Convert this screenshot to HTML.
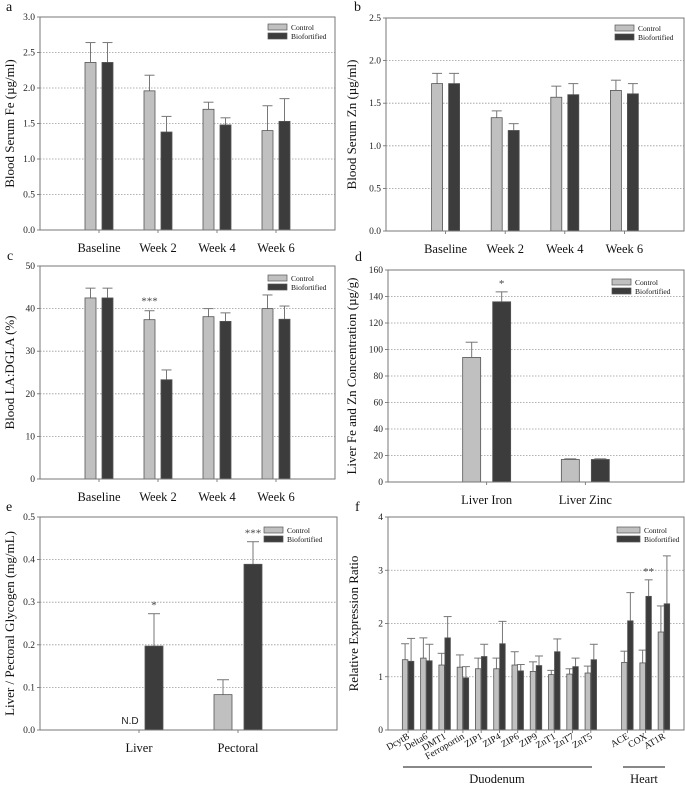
<!DOCTYPE html>
<html><head><meta charset="utf-8"><style>
html,body{margin:0;padding:0;background:#fff;}
svg{display:block;font-family:"Liberation Serif",serif;}
</style></head><body>
<svg id="fig" width="685" height="785" viewBox="0 0 685 785" xmlns="http://www.w3.org/2000/svg"></svg>
<script>
const NS="http://www.w3.org/2000/svg";
const svg=document.getElementById('fig');
// Panel a
const aCats=["Baseline","Week 2","Week 4","Week 6"];
const aControl=[2.36,1.96,1.70,1.40];
const aControlErr=[2.64,2.18,1.80,1.75];
const aBio=[2.36,1.38,1.48,1.53];
const aBioErr=[2.64,1.60,1.58,1.85];
const aTicks=["0.0","0.5","1.0","1.5","2.0","2.5","3.0"];
// Panel b
const bCats=["Baseline","Week 2","Week 4","Week 6"];
const bControl=[1.73,1.33,1.57,1.65];
const bControlErr=[1.85,1.41,1.70,1.77];
const bBio=[1.73,1.18,1.60,1.61];
const bBioErr=[1.85,1.26,1.73,1.73];
const bTicks=["0.0","0.5","1.0","1.5","2.0","2.5"];
// Panel c
const cCats=["Baseline","Week 2","Week 4","Week 6"];
const cControl=[42.5,37.4,38.1,40.0];
const cControlErr=[44.8,39.5,40.0,43.2];
const cBio=[42.5,23.3,37.0,37.5];
const cBioErr=[44.8,25.6,39.0,40.6];
const cTicks=["0","10","20","30","40","50"];
// Panel d
const dCats=["Liver Iron","Liver Zinc"];
const dControl=[94,17];
const dControlErr=[105.5,17.5];
const dBio=[136,17];
const dBioErr=[143.5,17.5];
const dTicks=["0","20","40","60","80","100","120","140","160"];
// Panel e
const eCats=["Liver","Pectoral"];
const eControl=[null,0.083];
const eControlErr=[null,0.118];
const eBio=[0.197,0.389];
const eBioErr=[0.273,0.442];
const eTicks=["0.0","0.1","0.2","0.3","0.4","0.5"];
// Panel f
const fCats=["DcytB","Delta6","DMT1","Ferroportin","ZIP1","ZIP4","ZIP6","ZIP9","ZnT1","ZnT7","ZnT5","","ACE","COX","AT1R"];
const fControl=[1.32,1.35,1.22,1.18,1.15,1.15,1.22,1.10,1.04,1.05,1.07,null,1.27,1.26,1.84];
const fControlErr=[1.62,1.73,1.44,1.41,1.35,1.35,1.47,1.28,1.12,1.15,1.20,null,1.48,1.50,2.33];
const fBio=[1.29,1.30,1.73,0.98,1.38,1.62,1.11,1.21,1.47,1.19,1.32,null,2.05,2.51,2.37];
const fBioErr=[1.72,1.61,2.13,1.19,1.61,2.04,1.23,1.39,1.71,1.35,1.61,null,2.58,2.82,3.27];
const fTicks=["0","1","2","3","4"];

function el(tag,attrs,parent){const e=document.createElementNS(NS,tag);for(const k in attrs)e.setAttribute(k,attrs[k]);(parent||svg).appendChild(e);return e;}
function txt(s,attrs,parent){const e=el('text',attrs,parent);e.textContent=s;return e;}

function panel(p){
  const g=el('g',{});
  
  
  const {L,R,T,B}=p;const ticks=p.ticks;
  const ymax=parseFloat(ticks[ticks.length-1]);
  const y=v=>B-(v/ymax)*(B-T);
  const n=p.cats.length;
  const x=i=>L+(i+p.off)*(R-L)/p.div;
  // grid
  ticks.forEach((t,i)=>{
    const v=parseFloat(t);const yy=y(v);
    if(i>0&&i<ticks.length-1){const gl=el('line',{x1:L,x2:R,y1:yy,y2:yy,stroke:'#999','stroke-width':0.8,'stroke-dasharray':'1.5,1.5'},g);
      }
    const tl=txt(t,{x:L-5,y:yy+3,'font-size':9.5,'text-anchor':'end',fill:'#222'},g);
    
    el('line',{x1:L-3,x2:L,y1:yy,y2:yy,stroke:'#666','stroke-width':0.8},g);
  });
  // bars
  const drawBar=(vals,errs,i,cx,fill,nm)=>{
    if(vals[i]==null)return;
    const yv=y(vals[i]);const w=p.bw;
    const ey=y(errs[i]);
    const eb=el('line',{x1:cx,x2:cx,y1:yv,y2:ey,stroke:'#777','stroke-width':1},g);
    
    el('line',{x1:cx-p.cap,x2:cx+p.cap,y1:ey,y2:ey,stroke:'#777','stroke-width':1},g);
    const r=el('rect',{x:cx-w/2,y:yv,width:w,height:B-yv,fill:fill,stroke:'#555','stroke-width':0.8},g);
    
  };
  for(let i=0;i<n;i++){
    if(p.cats[i]==="")continue;
    const cx=x(i);
    drawBar(p.ctrl,p.ctrlErr,i,cx-p.sep,'#c0c0c0','bar-control');
    drawBar(p.bio,p.bioErr,i,cx+p.sep,'#3c3c3c','bar-biofortified');
    el('line',{x1:cx,x2:cx,y1:B,y2:B+3,stroke:'#666','stroke-width':0.8},g);
    if(p.rot){
      const lb=txt(p.cats[i],{x:cx+2,y:B+8,'font-size':9.5,'text-anchor':'end',transform:`rotate(-30 ${cx+2} ${B+8})`,fill:'#111'},g);
      
    } else {
      const lb=txt(p.cats[i],{x:cx,y:B+22,'font-size':12.5,'text-anchor':'middle',fill:'#111'},g);
      
    }
  }
  // frame
  const fr=el('rect',{x:L,y:T,width:R-L,height:B-T,fill:'none',stroke:'#777','stroke-width':1},g);
  
  // y title
  const yt=txt(p.ytitle,{x:0,y:0,'font-size':p.ytsize||13,'text-anchor':'middle',transform:`translate(${p.ytx} ${(T+B)/2}) rotate(-90)`,fill:'#111'},g);
  
  // legend
  const lg=el('g',{},g);
  
  [['Control','#c0c0c0'],['Biofortified','#3c3c3c']].forEach((d,k)=>{
    const yy=p.legY+k*9;
    el('rect',{x:p.legX,y:yy,width:p.legW,height:6,fill:d[1],stroke:'#555','stroke-width':0.7},lg);
    const lt=txt(d[0],{x:p.legX+p.legW+4,y:yy+6,'font-size':7.5,fill:'#111'},lg);
    
  });
  // panel letter
  const pl=txt(p.letter,{x:p.lx,y:p.ly,'font-size':14,fill:'#111'},g);
  
  return {x,y,g};
}

const pa=panel({name:'panel-a',L:40,R:335,T:17,B:230,cats:aCats,ctrl:aControl,ctrlErr:aControlErr,bio:aBio,bioErr:aBioErr,ticks:aTicks,off:1,div:5,bw:11,sep:8.5,cap:5,ytitle:'Blood Serum Fe (\u00b5g/ml)',ytx:14,legX:268,legY:24,legW:19,letter:'a',lx:6,ly:11});
const pb=panel({name:'panel-b',L:386,R:684,T:18,B:231,cats:bCats,ctrl:bControl,ctrlErr:bControlErr,bio:bBio,bioErr:bBioErr,ticks:bTicks,off:1,div:5,bw:11,sep:8.5,cap:5,ytitle:'Blood Serum Zn (\u00b5g/ml)',ytx:356,legX:615,legY:25,legW:19,letter:'b',lx:354,ly:11});
const pc=panel({name:'panel-c',L:40,R:335,T:266,B:479,cats:cCats,ctrl:cControl,ctrlErr:cControlErr,bio:cBio,bioErr:cBioErr,ticks:cTicks,off:1,div:5,bw:11,sep:8.5,cap:5,ytitle:'Blood LA:DGLA (%)',ytx:14,legX:268,legY:275,legW:19,letter:'c',lx:7,ly:260});
const pd=panel({name:'panel-d',L:388,R:684,T:270,B:482,cats:dCats,ctrl:dControl,ctrlErr:dControlErr,bio:dBio,bioErr:dBioErr,ticks:dTicks,off:1,div:3,bw:18,sep:15,cap:6,ytitle:'Liver Fe and Zn Concentration (\u00b5g/g)',ytx:356,legX:612,legY:279,legW:19,letter:'d',lx:355,ly:261});
const pe=panel({name:'panel-e',L:40,R:337,T:517,B:730,cats:eCats,ctrl:eControl,ctrlErr:eControlErr,bio:eBio,bioErr:eBioErr,ticks:eTicks,off:1,div:3,bw:18,sep:15,cap:6,ytitle:'Liver / Pectoral Glycogen (mg/mL)',ytx:14,legX:264,legY:527,legW:19,letter:'e',lx:6,ly:511});
const pf=panel({name:'panel-f',L:388,R:684,T:517,B:730,cats:fCats,ctrl:fControl,ctrlErr:fControlErr,bio:fBio,bioErr:fBioErr,ticks:fTicks,off:1.1,div:16.2,bw:5.5,sep:3,cap:4,rot:true,ytitle:'Relative Expression Ratio',ytx:358,legX:617,legY:527,legW:23,letter:'f',lx:355,ly:511});

function star(s,x,y,nm){const t=txt(s,{x:x,y:y,'font-size':11,'text-anchor':'middle',fill:'#444'});}
star('***',pc.x(1)-8.5,pc.y(cControlErr[1])-6,'significance-marker');
star('*',pd.x(0)+15,pd.y(dBioErr[0])-5,'significance-marker');
star('*',pe.x(0)+15,pe.y(eBioErr[0])-5,'significance-marker');
star('***',pe.x(1)+15,pe.y(eBioErr[1])-5,'significance-marker');
star('**',pf.x(13)+3,pf.y(fBioErr[13])-5,'significance-marker');
const nd=txt('N.D',{x:pe.x(0)-9,y:724,'font-size':10,'text-anchor':'middle','font-family':'Liberation Sans, sans-serif',fill:'#222'});

// group brackets
const gb1=el('line',{x1:403,x2:592,y1:767,y2:767,stroke:'#111','stroke-width':1});

const gb2=el('line',{x1:623,x2:665,y1:767,y2:767,stroke:'#111','stroke-width':1});

const gt1=txt('Duodenum',{x:497,y:783,'font-size':12.5,'text-anchor':'middle',fill:'#111'});

const gt2=txt('Heart',{x:644,y:783,'font-size':12.5,'text-anchor':'middle',fill:'#111'});

</script>
</body></html>
